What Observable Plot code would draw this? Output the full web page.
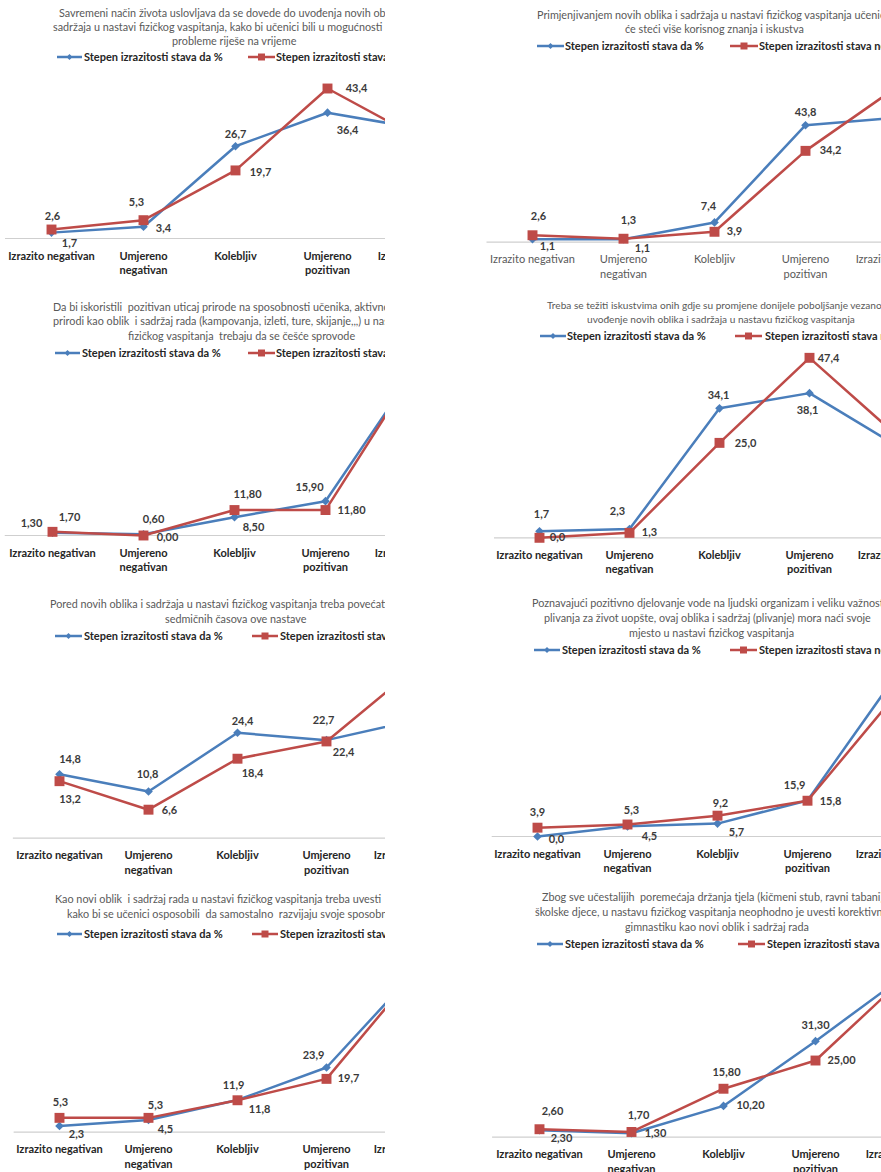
<!DOCTYPE html>
<html><head><meta charset="utf-8">
<script src="https://cdn.jsdelivr.net/npm/d3@7"></script>
<script src="https://cdn.jsdelivr.net/npm/@observablehq/plot@0.6"></script>
<style>
html,body{margin:0;padding:0;background:#fff;overflow:hidden;}
#page{position:relative;width:881px;height:1172px;overflow:hidden;font-family:Lato,sans-serif;background:#fff;}
.panel{position:absolute;overflow:hidden;}
</style></head><body><div id="page"></div>
<script>
// ---------- DATA ----------
const categories = ["Izrazito negativan","Umjereno negativan","Kolebljiv","Umjereno pozitivan","Izrazito pozitivan"];
const categoryLabels = ["Izrazito negativan","Umjereno\nnegativan","Kolebljiv","Umjereno\npozitivan","Izrazito pozitivan"];
const seriesNames = ["Stepen izrazitosti stava da %","Stepen izrazitosti stava ne %"];

const chart1Title = ["Savremeni način života uslovljava da se dovede do uvođenja novih oblika i","sadržaja u nastavi fizičkog vaspitanja, kako bi učenici bili u mogućnosti da","probleme riješe na vrijeme"];
const chart1Da = [1.7, 3.4, 26.7, 36.4, 31.8];
const chart1Ne = [2.6, 5.3, 19.7, 43.4, 29.0];

const chart2Title = ["Primjenjivanjem novih oblika i sadržaja u nastavi fizičkog vaspitanja učenici","će steći više korisnog znanja i iskustva"];
const chart2Da = [1.1, 1.1, 7.4, 43.8, 46.6];
const chart2Ne = [2.6, 1.3, 3.9, 34.2, 58.0];

const chart3Title = ["Da bi iskoristili  pozitivan uticaj prirode na sposobnosti učenika, aktivnosti u","prirodi kao oblik  i sadržaj rada (kampovanja, izleti, ture, skijanje,,,) u nastavi","fizičkog vaspitanja  trebaju da se češće sprovode"];
const chart3Da = [1.30, 0.60, 8.50, 15.90, 78.0];
const chart3Ne = [1.70, 0.00, 11.80, 11.80, 78.0];

const chart4Title = ["Treba se težiti iskustvima onih gdje su promjene donijele poboljšanje vezano za","uvođenje novih oblika i sadržaja u nastavu fizičkog vaspitanja"];
const chart4Da = [1.7, 2.3, 34.1, 38.1, 23.8];
const chart4Ne = [0.0, 1.3, 25.0, 47.4, 26.3];

const chart5Title = ["Pored novih oblika i sadržaja u nastavi fizičkog vaspitanja treba povećati broj","sedmičnih časova ove nastave"];
const chart5Da = [14.8, 10.8, 24.4, 22.7, 27.3];
const chart5Ne = [13.2, 6.6, 18.4, 22.4, 39.4];

const chart6Title = ["Poznavajući pozitivno djelovanje vode na ljudski organizam i veliku važnost","plivanja za život uopšte, ovaj oblika i sadržaj (plivanje) mora naći svoje","mjesto u nastavi fizičkog vaspitanja"];
const chart6Da = [0.0, 4.5, 5.7, 15.9, 72.0];
const chart6Ne = [3.9, 5.3, 9.2, 15.8, 63.5];

const chart7Title = ["Kao novi oblik  i sadržaj rada u nastavi fizičkog vaspitanja treba uvesti","kako bi se učenici osposobili  da samostalno  razvijaju svoje sposobnosti"];
const chart7Da = [2.3, 4.5, 11.9, 23.9, 59.5];
const chart7Ne = [5.3, 5.3, 11.8, 19.7, 59.0];

const chart8Title = ["Zbog sve učestalijih  poremećaja držanja tjela (kičmeni stub, ravni tabani) kod","školske djece, u nastavu fizičkog vaspitanja neophodno je uvesti korektivnu","gimnastiku kao novi oblik i sadržaj rada"];
const chart8Da = [2.30, 1.30, 10.20, 31.30, 53.4];
const chart8Ne = [2.60, 1.70, 15.80, 25.00, 53.0];

const charts = [
  {title: chart1Title, da: chart1Da, ne: chart1Ne, decimals: 1},
  {title: chart2Title, da: chart2Da, ne: chart2Ne, decimals: 1},
  {title: chart3Title, da: chart3Da, ne: chart3Ne, decimals: 2},
  {title: chart4Title, da: chart4Da, ne: chart4Ne, decimals: 1},
  {title: chart5Title, da: chart5Da, ne: chart5Ne, decimals: 1},
  {title: chart6Title, da: chart6Da, ne: chart6Ne, decimals: 1},
  {title: chart7Title, da: chart7Da, ne: chart7Ne, decimals: 1},
  {title: chart8Title, da: chart8Da, ne: chart8Ne, decimals: 2}
];

// ---------- LAYOUT (page coordinates) ----------
const layouts = [
  {left:0, top:0, w:385, h:300, c1:51, step:92, base:238, ppu:3.456, catBold:true,
   titlePos:[[59,13],[53,27],[172,41]], legend:{y:57, b:[57,82,84], r:[248,275,276]},
   off:{da:[[18,11],[20,2],[0,-12],[20,18]], ne:[[1,-13],[-7,-18],[25,2],[29,0]]}},
  {left:440, top:0, w:441, h:300, c1:532, step:91, base:241.7, ppu:2.671, catBold:false,
   titlePos:[[537,15],[625,29]], legend:{y:46, b:[537,564,565], r:[730,758,759]},
   off:{da:[[15,7],[19,9],[-6,-15.5],[0,-13]], ne:[[6,-19],[5,-18],[20,0],[25,0]]}},
  {left:0, top:290, w:385, h:300, c1:50.5, step:91.5, base:535, ppu:2.157, catBold:true,
   titlePos:[[53,307],[53,321],[128,336]], legend:{y:353, b:[55,80,82], r:[248,275,276]},
   off:{da:[[-21,-9],[10,-15],[19,10.6],[-16,-14]], ne:[[17,-14],[24,2],[13,-15.5],[26,0]]}},
  {left:440, top:290, w:441, h:300, c1:539, step:90, base:537.3, ppu:3.797, catBold:true, titleSize:10.1,
   titlePos:[[547,305],[587,319]], legend:{y:336, b:[540,566,567], r:[735,762,765]},
   off:{da:[[2,-17],[-12,-18],[-1,-13],[-2,17]], ne:[[18,0],[20,0],[26,1],[19,1]]}},
  {left:0, top:580, w:385, h:300, c1:57.7, step:89.7, base:837.7, ppu:4.32, catBold:true,
   titlePos:[[50,604],[165,619]], legend:{y:636, b:[55,82,84], r:[252,278,280]},
   off:{da:[[10.6,-15],[-1,-17],[5,-11.6],[-3,-19.6]], ne:[[10.6,18.6],[21,1],[15,15],[17,11.4]]}},
  {left:440, top:580, w:441, h:300, c1:536.7, step:90, base:836, ppu:2.264, catBold:true,
   titlePos:[[532,603],[544,618],[629,633]], legend:{y:650, b:[534,560,562], r:[730,757,759]},
   off:{da:[[19,3],[22,10],[19,9],[-13,-15]], ne:[[0,-15.5],[4,-14],[3,-12],[23,0.5]]}},
  {left:0, top:870, w:385, h:302, c1:58.3, step:89.3, base:1131.7, ppu:2.707, catBold:true,
   titlePos:[[55,899],[67,914]], legend:{y:934, b:[57,82,84], r:[252,278,280]},
   off:{da:[[17,8],[17,9],[-4,-15],[-13,-12]], ne:[[1,-15],[7,-12],[22,9],[22,0]]}},
  {left:440, top:870, w:441, h:302, c1:538.3, step:92.4, base:1136.7, ppu:3.067, catBold:true,
   titlePos:[[542,897],[535,912],[625,927]], legend:{y:944, b:[537,563,565], r:[738,765,767]},
   off:{da:[[22,8],[24,0],[27,0],[0,-16]], ne:[[13,-18],[7,-16.5],[3,-16.5],[26,0]]}}
];

const BLUE = "#4A7EBB", RED = "#BE4B48";
const fmt = (v, d) => v.toFixed(d).replace(".", ",");
const diamondSym = {draw(ctx, size) { const r = Math.sqrt(size) * 0.62625; ctx.moveTo(0,-r); ctx.lineTo(r,0); ctx.lineTo(0,r); ctx.lineTo(-r,0); ctx.closePath(); }};

charts.forEach((p, k) => {
  const L = layouts[k];
  const lx = v => v - L.left, ly = v => v - L.top;
  const c1 = lx(L.c1), base = ly(L.base);
  const rowsDa = categories.map((c, i) => ({cat: c, value: p.da[i]}));
  const rowsNe = categories.map((c, i) => ({cat: c, value: p.ne[i]}));

  const labelMarks = [];
  [["da", rowsDa], ["ne", rowsNe]].forEach(([key, rows]) => {
    rows.slice(0, 4).forEach((d, i) => {
      const [dx, dy] = L.off[key][i];
      labelMarks.push(Plot.text([d], {x: "cat", y: "value", text: r => fmt(r.value, p.decimals),
        dx, dy, fontWeight: "bold", fontSize: 11, fill: "#3a3a3a"}));
    });
  });

  const chart = Plot.plot({
    width: L.w, height: L.h,
    marginLeft: c1 - L.step / 2, marginRight: 0, marginTop: 0, marginBottom: 0,
    x: {type: "point", domain: categories, range: [c1, c1 + 4 * L.step], padding: 0, axis: null},
    y: {domain: [0, 100], range: [base, base - 100 * L.ppu], axis: null},
    style: {fontFamily: "Lato, sans-serif", background: "transparent", overflow: "hidden"},
    marks: [
      Plot.ruleY([0], {stroke: "#cfcfcf", strokeWidth: 1.2}),
      Plot.text(categories, {x: d => d, y: () => 0, text: (d, i) => categoryLabels[i],
        dy: 11, lineAnchor: "top", lineHeight: 1.3, fontSize: 11,
        fontWeight: L.catBold ? "bold" : "normal", fill: L.catBold ? "#262626" : "#595959"}),
      Plot.line(rowsDa, {x: "cat", y: "value", stroke: BLUE, strokeWidth: 2.5}),
      Plot.dot(rowsDa, {x: "cat", y: "value", symbol: diamondSym, r: 3.9, fill: BLUE, stroke: "none"}),
      Plot.line(rowsNe, {x: "cat", y: "value", stroke: RED, strokeWidth: 2.5}),
      Plot.dot(rowsNe, {x: "cat", y: "value", symbol: "square", r: 5.6, fill: RED, stroke: "none"}),
      ...labelMarks
    ]
  });

  const svg = d3.select(chart);
  const g = svg.append("g");
  L.titlePos.forEach(([x, y], i) => {
    g.append("text").attr("x", lx(x)).attr("y", ly(y)).attr("dy", "0.35em")
      .attr("text-anchor", "start").attr("fill", "#595959")
      .attr("font-size", L.titleSize || 10.8).style("white-space", "pre").text(p.title[i]);
  });
  const lg = L.legend;
  [[lg.b, BLUE, diamondSym, 22, 0], [lg.r, RED, d3.symbolSquare, 49, 1]].forEach(([pos, color, sym, size, si]) => {
    g.append("line").attr("x1", lx(pos[0])).attr("x2", lx(pos[1]))
      .attr("y1", ly(lg.y)).attr("y2", ly(lg.y)).attr("stroke", color).attr("stroke-width", 2.5);
    g.append("path").attr("d", d3.symbol(sym, size)())
      .attr("transform", `translate(${lx((pos[0] + pos[1]) / 2)},${ly(lg.y)})`).attr("fill", color);
    g.append("text").attr("x", lx(pos[2])).attr("y", ly(lg.y)).attr("dy", "0.35em")
      .attr("text-anchor", "start").attr("font-weight", "bold").attr("font-size", 11)
      .attr("fill", "#262626").text(seriesNames[si]);
  });

  const div = d3.select("#page").append("div").attr("class", "panel")
    .style("left", L.left + "px").style("top", L.top + "px")
    .style("width", L.w + "px").style("height", L.h + "px");
  div.node().appendChild(chart);
});
</script>
</body></html>
